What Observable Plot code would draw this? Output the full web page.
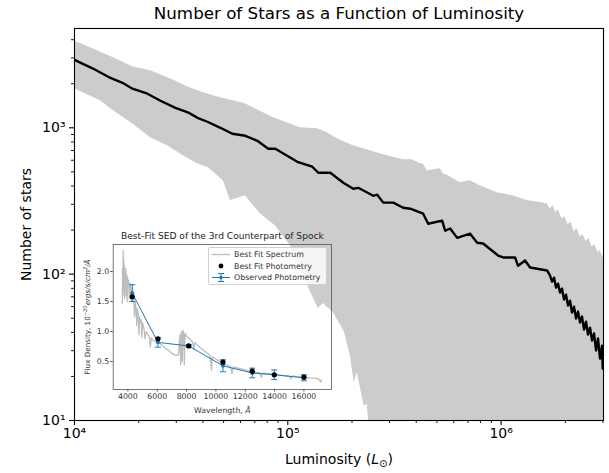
<!DOCTYPE html>
<html><head><meta charset="utf-8">
<script src="https://cdn.jsdelivr.net/npm/d3@7"></script>
<script src="https://cdn.jsdelivr.net/npm/@observablehq/plot@0.6"></script>
<style>
body{margin:0;background:#fff;}
#wrap{position:relative;width:609px;height:473px;font-family:"DejaVu Sans";}
#inset{position:absolute;left:78px;top:226px;}
#legend{position:absolute;left:208px;top:247px;width:119px;height:38px;background:rgba(255,255,255,0.8);border:1px solid #d0d0d0;border-radius:2px;box-sizing:border-box;}
</style></head><body><div id="wrap"><div id="inset"></div><div id="legend"></div></div>
<script>
// ---- main chart data ----
const lineLum = [10000, 12270, 14740, 16790, 18690, 21970, 25280, 29720, 34200, 37690, 41980, 48290, 54950, 63230, 71960, 81000, 87400, 110800, 130200, 139000, 158200, 182000, 202700, 213900, 251500, 262600, 280200, 312000, 347500, 374800, 431200, 455000, 529300, 546700, 576900, 622200, 715800, 772200, 823500, 968100, 1022000, 1163000, 1201000, 1295000, 1367000, 1642000, 1696000, 1733000, 1771000, 1809000, 1849000, 1889000, 1930000, 1972000, 2015000, 2059000, 2104000, 2150000, 2197000, 2245000, 2294000, 2344000, 2395000, 2447000, 2501000, 2555000, 2611000, 2668000, 2726000, 2786000, 2847000, 2909000, 2972000, 2995000];
const lineCount = [2910, 2530, 2190, 2030, 1850, 1710, 1530, 1370, 1270, 1170, 1100, 1000, 910, 882, 815, 719, 719, 586, 542, 493, 493, 421, 383, 389, 343, 349, 308, 308, 284, 280, 259, 221, 232, 198, 205, 177, 189, 164, 162, 134, 130, 130, 114, 124, 111, 106, 97.7, 88.9, 94.6, 80.9, 86.1, 74.8, 79.6, 67.0, 72.4, 61.0, 65.9, 54.6, 60.0, 49.7, 55.5, 46.7, 51.3, 41.8, 47.4, 38.6, 43.1, 35.2, 39.3, 30.1, 36.3, 26.5, 32.5, 22.6];
const upperLum = [10000, 12270, 15230, 18690, 22700, 28150, 33830, 40200, 48290, 63230, 76770, 85530, 99470, 114400, 137500, 153100, 170600, 202700, 243500, 292400, 347500, 382900, 417500, 431200, 450200, 518000, 534900, 564700, 642700, 715800, 797200, 957800, 1138000, 1324000, 1642000, 1696000, 1752000, 1809000, 1849000, 1930000, 1994000, 2059000, 2127000, 2197000, 2270000, 2344000, 2422000, 2501000, 2583000, 2668000, 2756000, 2847000, 2909000, 3020000];
const upperCount = [3926, 3461, 3005, 2609, 2450, 2160, 1905, 1734, 1603, 1458, 1266, 1170, 1082, 1000, 985, 925, 841, 754, 697, 644, 605, 605, 568, 568, 509, 525, 485, 470, 421, 435, 402, 360, 343, 318, 303, 280, 293, 263, 276, 239, 247, 218, 225, 195, 205, 180, 186, 167, 175, 154, 159, 140, 145, 128];
const lowerLum = [10000, 13230, 15230, 18690, 22700, 27270, 32390, 37690, 42420, 49890, 53790, 63230, 74300, 87400, 102700, 118200, 130200, 139000, 146700, 163300, 183900, 196200, 204800, 211600, 228200, 235800, 243500];
const lowerCount = [1846, 1530, 1306, 1065, 854, 754, 644, 568, 533, 435, 318, 343, 259, 214, 157, 97.7, 71.3, 58.1, 62.9, 54.6, 40.5, 27.8, 18.2, 21.3, 12.5, 12.9, 7];
const xMajorTicks = [1e4, 1e5, 1e6];
const xMinorTicks = [2e4,3e4,4e4,5e4,6e4,7e4,8e4,9e4,2e5,3e5,4e5,5e5,6e5,7e5,8e5,9e5,2e6,3e6];
const yMajorTicks = [10, 100, 1000];
const yMinorTicks = [20,30,40,50,60,70,80,90,200,300,400,500,600,700,800,900,2000,3000,4000];

// ---- inset data ----
const specWave = [3620,3640,3660,3680,3700,3720,3740,3760,3780,3800,3830,3860,3890,3920,3950,3980,4010,4050,4100,4150,4200,4250,4300,4350,4400,4450,4500,4550,4600,4650,4700,4760,4800,4860,4900,4950,5000,5100,5170,5250,5350,5450,5530,5600,5700,5850,6000,6200,6400,6550,6700,6900,7100,7300,7450,7550,7600,7650,7700,7750,7800,7850,7900,8000,8100,8200,8400,8500,8550,8800,9000,9200,9400,9600,9700,9750,10000,10300,10600,11000,11100,11200,11500,12000,12500,13000,13100,13200,13600,14000,14500,15000,15100,15200,15800,16300,16800,17000,17150,17200];
const specFlux = [1.47,2.05,1.60,2.35,1.85,2.20,1.65,2.10,1.55,2.00,1.75,2.05,1.60,1.95,1.50,1.90,1.80,1.85,1.55,1.80,1.75,1.50,1.70,1.62,1.55,1.25,1.50,1.40,1.10,1.38,1.30,0.95,1.25,1.15,1.20,0.90,1.15,1.05,0.88,1.00,0.95,0.92,0.74,0.90,0.86,0.84,0.82,0.80,0.76,0.72,0.70,0.66,0.62,0.60,0.62,0.95,0.45,1.00,0.50,1.02,0.98,0.45,0.97,0.92,0.90,0.88,0.83,0.70,0.82,0.76,0.72,0.68,0.64,0.60,0.36,0.58,0.54,0.50,0.46,0.42,0.30,0.41,0.39,0.36,0.33,0.31,0.24,0.31,0.30,0.29,0.27,0.26,0.21,0.26,0.24,0.23,0.22,0.21,0.16,0.20];
const photWave = [4300, 6050, 8150, 10480, 12480, 13980, 16000];
const obsFlux = [1.64, 0.82, 0.76, 0.43, 0.31, 0.28, 0.23];
const obsErr = [0.14, 0.08, 0.02, 0.10, 0.08, 0.08, 0.05];
const bestFlux = [1.58, 0.88, 0.76, 0.49, 0.34, 0.28, 0.24];
const insetXTicks = [4000, 6000, 8000, 10000, 12000, 14000, 16000];
const insetYTicks = [0.5, 1.0, 1.5, 2.0];

const sup = {1:"¹",2:"²",3:"³",4:"⁴",5:"⁵",6:"⁶"};
const powFmt = d => "10" + sup[Math.round(Math.log10(d))];

const lineRows = lineLum.map((x, i) => ({lum: x, count: lineCount[i]}));
const upperRows = upperLum.map((x, i) => ({lum: x, count: upperCount[i]}));
const lowerRows = lowerLum.map((x, i) => ({lum: x, count: lowerCount[i]}));

const main = Plot.plot({
  width: 609, height: 473,
  marginLeft: 74, marginRight: 6, marginTop: 28, marginBottom: 53,
  style: {fontFamily: "DejaVu Sans", fontSize: "14px", background: "white", color: "black"},
  x: {type: "log", domain: [1e4, 3.02e6]},
  y: {type: "log", domain: [10, 4770]},
  marks: [
    Plot.areaY(upperRows, {x: "lum", y1: 1, y2: "count", fill: "#cccccc", clip: true}),
    Plot.areaY(lowerRows, {x: "lum", y1: 1, y2: "count", fill: "white", clip: true}),
    Plot.line(lineRows, {x: "lum", y: "count", stroke: "black", strokeWidth: 2.4, clip: true}),
    Plot.frame({stroke: "black", strokeWidth: 1.1}),
    Plot.axisX({ticks: xMajorTicks, tickFormat: powFmt, tickSize: 5, tickPadding: 3, strokeWidth: 1.1, label: null}),
    Plot.axisX({ticks: xMinorTicks, tickFormat: () => "", tickSize: 3, strokeWidth: 0.9, label: null}),
    Plot.axisY({ticks: yMajorTicks, tickFormat: powFmt, tickSize: 5, tickPadding: 4, strokeWidth: 1.1, label: null}),
    Plot.axisY({ticks: yMinorTicks, tickFormat: () => "", tickSize: 3, strokeWidth: 0.9, label: null}),
    Plot.text(["Number of Stars as a Function of Luminosity"], {frameAnchor: "top", dy: -15, lineAnchor: "middle", fontSize: 16.7, fill: "black"}),
    Plot.text(["Luminosity (L⊙)"], {frameAnchor: "bottom", dy: 39, lineAnchor: "middle", fontSize: 14, fill: "black"}),
    Plot.text(["Number of stars"], {frameAnchor: "left", dx: -48, rotate: -90, textAnchor: "middle", lineAnchor: "middle", fontSize: 14, fill: "black"})
  ]
});
document.getElementById("wrap").prepend(main);

// ---- inset ----
const specRows = specWave.map((w, i) => ({w, f: specFlux[i]}));
const obsRows = photWave.map((w, i) => ({w, f: obsFlux[i], e: obsErr[i]}));
const bestRows = photWave.map((w, i) => ({w, f: bestFlux[i]}));
const capSymbol = {draw(ctx, size) { const r = Math.sqrt(size) / 2; ctx.moveTo(-r, 0); ctx.lineTo(r, 0); }};
const insetTitle = "Best-Fit SED of the 3rd Counterpart of Spock";
const insetYLabel = "Flux Density, 10-20ergs/s/cm2/Å";

const inset = Plot.plot({
  width: 262, height: 194,
  marginLeft: 34.7, marginRight: 9, marginTop: 18, marginBottom: 31,
  style: {background: "transparent", fontFamily: "DejaVu Sans", fontSize: "7.8px", color: "#333", overflow: "visible"},
  x: {domain: [3000, 17880]},
  y: {domain: [0.035, 2.45]},
  marks: [
    Plot.line(specRows, {x: "w", y: "f", stroke: "#bdbdbd", strokeWidth: 1.3}),
    Plot.line(obsRows, {x: "w", y: "f", stroke: "#1f77b4", strokeWidth: 1}),
    Plot.ruleX(obsRows, {x: "w", y1: d => d.f - d.e, y2: d => d.f + d.e, stroke: "#1f77b4", strokeWidth: 1}),
    Plot.dot(obsRows, {x: "w", y: d => d.f + d.e, symbol: capSymbol, r: 3.4, stroke: "#1f77b4", strokeWidth: 1}),
    Plot.dot(obsRows, {x: "w", y: d => d.f - d.e, symbol: capSymbol, r: 3.4, stroke: "#1f77b4", strokeWidth: 1}),
    Plot.dot(obsRows, {x: "w", y: "f", r: 2, fill: "#1f77b4"}),
    Plot.dot(bestRows, {x: "w", y: "f", r: 2.6, fill: "black"}),
    Plot.frame({stroke: "#555", strokeWidth: 0.8}),
    Plot.axisX({ticks: insetXTicks, tickFormat: d => String(d), tickSize: 2.5, tickPadding: 1.5, stroke: "#555", label: null}),
    Plot.axisY({ticks: insetYTicks, tickFormat: d => d.toFixed(1), tickSize: 2.5, tickPadding: 1.5, stroke: "#555", label: null}),
    Plot.text([insetTitle], {frameAnchor: "top", dy: -8, lineAnchor: "middle", fontSize: 9.1, fill: "#222"}),
    Plot.text(["Wavelength, Å"], {frameAnchor: "bottom", dy: 21, lineAnchor: "middle", fontSize: 7.8, fill: "#333"}),
    Plot.text([insetYLabel], {frameAnchor: "left", dx: -26, rotate: -90, textAnchor: "middle", lineAnchor: "middle", fontSize: 7.2, fill: "#333"})
  ]
});
document.getElementById("inset").appendChild(inset);

// rich text (italic / super- / subscripts)
function richText(svg, plain, parts) {
  d3.select(svg).selectAll("text").filter(function() { return this.textContent === plain; }).each(function() {
    const t = d3.select(this);
    t.text(null);
    for (const p of parts) {
      const s = t.append("tspan").text(p.text);
      if (p.italic) s.attr("font-style", "italic");
      if (p.size) s.attr("font-size", p.size);
      if (p.dy) s.attr("dy", p.dy);
    }
  });
}
richText(main, "Luminosity (L⊙)", [{text: "Luminosity ("}, {text: "L", italic: true}, {text: "⊙", size: 10, dy: 3}, {text: ")", dy: -3}]);
richText(inset, "Wavelength, Å", [{text: "Wavelength, "}, {text: "Å", italic: true}]);
richText(inset, insetYLabel, [{text: "Flux Density, 10"}, {text: "−20", size: 5.2, dy: -3}, {text: "ergs/s/cm", italic: true, dy: 3}, {text: "2", size: 5.2, dy: -3}, {text: "/Å", italic: true, dy: 3}]);

// ---- legend ----
const leg = d3.select("#legend").append("svg").attr("width", 117).attr("height", 36)
  .style("font-family", "DejaVu Sans").style("font-size", "7.9px");
const legItems = ["Best Fit Spectrum", "Best Fit Photometry", "Observed Photometry"];
const rowsY = [6.5, 18, 29.5];
leg.append("line").attr("x1", 3).attr("x2", 21).attr("y1", rowsY[0]).attr("y2", rowsY[0]).attr("stroke", "#bdbdbd").attr("stroke-width", 1.3);
leg.append("circle").attr("cx", 12).attr("cy", rowsY[1]).attr("r", 2.4).attr("fill", "black");
leg.append("line").attr("x1", 3).attr("x2", 21).attr("y1", rowsY[2]).attr("y2", rowsY[2]).attr("stroke", "#1f77b4").attr("stroke-width", 1);
leg.append("line").attr("x1", 12).attr("x2", 12).attr("y1", rowsY[2] - 4).attr("y2", rowsY[2] + 4).attr("stroke", "#1f77b4").attr("stroke-width", 1);
leg.append("line").attr("x1", 9).attr("x2", 15).attr("y1", rowsY[2] - 4).attr("y2", rowsY[2] - 4).attr("stroke", "#1f77b4");
leg.append("line").attr("x1", 9).attr("x2", 15).attr("y1", rowsY[2] + 4).attr("y2", rowsY[2] + 4).attr("stroke", "#1f77b4");
leg.append("circle").attr("cx", 12).attr("cy", rowsY[2]).attr("r", 1.8).attr("fill", "#1f77b4");
legItems.forEach((s, i) => leg.append("text").attr("x", 25).attr("y", rowsY[i]).attr("dy", "0.35em").attr("fill", "#333").text(s));
</script>
</body></html>
